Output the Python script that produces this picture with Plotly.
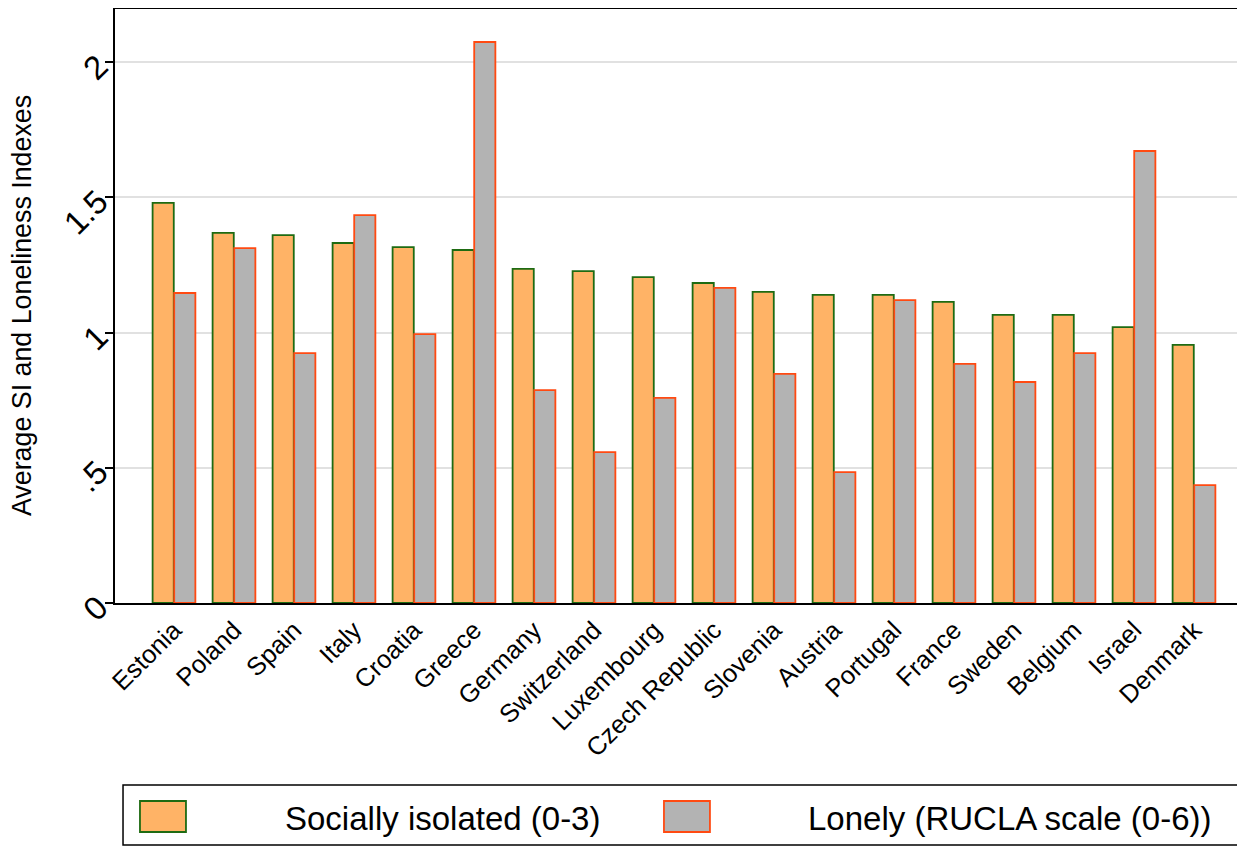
import plotly.graph_objects as go

countries = ["Estonia", "Poland", "Spain", "Italy", "Croatia", "Greece", "Germany",
             "Switzerland", "Luxembourg", "Czech Republic", "Slovenia", "Austria",
             "Portugal", "France", "Sweden", "Belgium", "Israel", "Denmark"]
socially_isolated = [1.479, 1.368, 1.360, 1.331, 1.316, 1.305, 1.235, 1.227, 1.205,
                     1.183, 1.150, 1.139, 1.139, 1.113, 1.065, 1.065, 1.020, 0.954]
lonely = [1.146, 1.312, 0.924, 1.434, 0.994, 2.074, 0.787, 0.558, 0.758,
          1.165, 0.847, 0.484, 1.120, 0.884, 0.817, 0.924, 1.671, 0.436]
y_ticks = [0, 0.5, 1, 1.5, 2]
y_tick_labels = ["0", ".5", "1", "1.5", "2"]
legend_labels = ["Socially isolated (0-3)", "Lonely (RUCLA scale (0-6))"]
y_title = "Average SI and Loneliness Indexes"

SI_FILL, SI_LINE = "#FFB366", "#1E6B12"
LO_FILL, LO_LINE = "#B3B3B3", "#FF4A12"
FONT = "Liberation Sans, Arial, sans-serif"

fig = go.Figure()
fig.add_bar(x=countries, y=socially_isolated, name=legend_labels[0],
            marker=dict(color=SI_FILL, line=dict(color=SI_LINE, width=1.8)))
fig.add_bar(x=countries, y=lonely, name=legend_labels[1],
            marker=dict(color=LO_FILL, line=dict(color=LO_LINE, width=1.8)))

# hand-drawn legend box, Stata style
fig.add_shape(type="rect", xref="paper", yref="paper",
              x0=0.0071, x1=0.9982, y0=-0.4074, y1=-0.3064,
              line=dict(color="black", width=1.5), fillcolor="white")
swatches = [(0.0221, 0.0628, SI_FILL, SI_LINE), (0.4858, 0.5265, LO_FILL, LO_LINE)]
text_x = [0.1487, 0.6115]
for (x0, x1, fill, line), tx, lab in zip(swatches, text_x, legend_labels):
    fig.add_shape(type="rect", xref="paper", yref="paper", x0=x0, x1=x1,
                  y0=-0.3855, y1=-0.3333, fillcolor=fill, line=dict(color=line, width=1.8))
    fig.add_annotation(text=lab, xref="paper", yref="paper", x=tx, y=-0.362,
                       xanchor="left", yanchor="middle", showarrow=False,
                       font=dict(size=33, color="black", family=FONT))

# y title as annotation so it can sit closer to the page edge
fig.add_annotation(text=y_title, xref="paper", yref="paper", x=-0.0823, y=0.5,
                   xanchor="center", yanchor="middle", textangle=-90, showarrow=False,
                   font=dict(size=26.8, color="black", family=FONT))

fig.update_layout(
    width=1237, height=838,
    margin=dict(l=107, r=0, t=1, b=243),
    paper_bgcolor="white", plot_bgcolor="white",
    barmode="group", bargap=0.28, bargroupgap=0.02,
    showlegend=False,
    font=dict(family=FONT, color="black"),
)
fig.update_xaxes(
    range=[-0.983, 17.85], tickangle=-45, tickfont=dict(size=25.5),
    showline=True, linecolor="black", linewidth=2, mirror=True,
    ticks="", showgrid=False,
)
fig.update_yaxes(
    range=[0, 2.196], tickvals=y_ticks, ticktext=y_tick_labels, tickangle=-45,
    tickfont=dict(size=33), ticks="outside", ticklen=8, tickwidth=1.5, tickcolor="black",
    showline=True, linecolor="black", linewidth=2,
    showgrid=True, gridcolor="#E1E1E1", gridwidth=2, zeroline=False,
)

fig.write_html("out.html")
